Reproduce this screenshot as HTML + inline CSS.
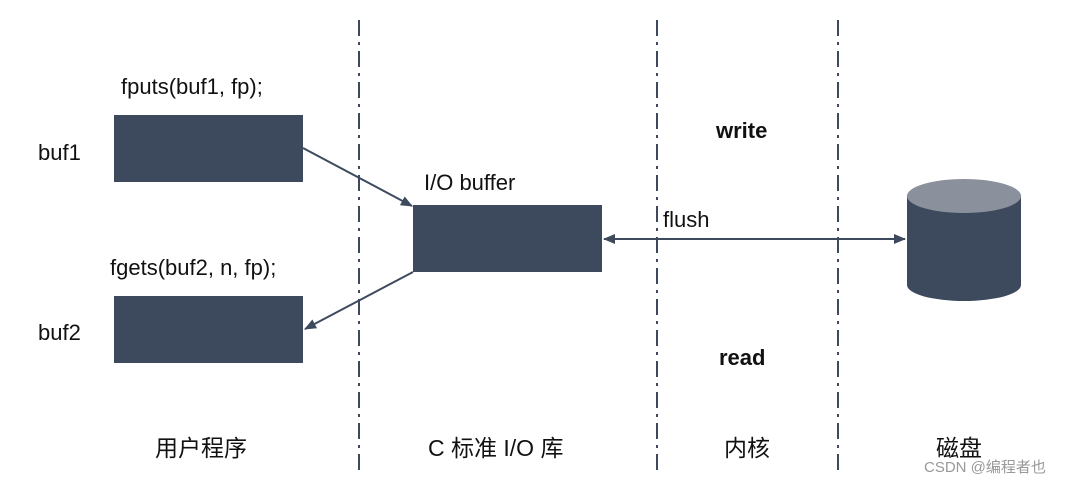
<!DOCTYPE html>
<html><head><meta charset="utf-8"><style>
body{margin:0;background:#fff;}
text{font-family:"Liberation Sans","Noto Sans CJK SC",sans-serif;fill:#111;}
</style></head><body>
<svg width="1076" height="484" viewBox="0 0 1076 484" xmlns="http://www.w3.org/2000/svg">
<defs><marker id="a" markerWidth="12" markerHeight="10" refX="11" refY="5" orient="auto" markerUnits="userSpaceOnUse"><path d="M0,0 L12,5 L0,10 Z" fill="#3d4a5e"/></marker></defs>
<g stroke="#3d4a5e" stroke-width="2" stroke-dasharray="16,6,3,6">
<line x1="359" y1="20" x2="359" y2="472"/>
<line x1="657" y1="20" x2="657" y2="472"/>
<line x1="838" y1="20" x2="838" y2="472"/>
</g>
<g fill="#3d4a5e">
<rect x="114" y="115" width="189" height="67"/>
<rect x="114" y="296" width="189" height="67"/>
<rect x="413" y="205" width="189" height="67"/>
<path d="M907,195 L907,285 A57,16 0 0 0 1021,285 L1021,195 Z"/>
</g>
<ellipse cx="964" cy="196" rx="57" ry="17" fill="#8a909c"/>
<g stroke="#3d4a5e" stroke-width="2" fill="none">
<line x1="303" y1="148" x2="412" y2="206" marker-end="url(#a)"/>
<line x1="413" y1="272" x2="305" y2="329" marker-end="url(#a)"/>
<line x1="620" y1="239" x2="905" y2="239" marker-end="url(#a)"/>
<line x1="620" y1="239" x2="604" y2="239" marker-end="url(#a)"/>
</g>
<g font-size="22">
<text x="121" y="94">fputs(buf1, fp);</text>
<text x="38" y="160">buf1</text>
<text x="110" y="275">fgets(buf2, n, fp);</text>
<text x="38" y="340">buf2</text>
<text x="424" y="190">I/O buffer</text>
<text x="663" y="227">flush</text>
<text x="716" y="138" font-weight="bold">write</text>
<text x="719" y="365" font-weight="bold">read</text>
</g>
<g font-size="23">
<text x="155" y="456">用户程序</text>
<text x="428" y="456">C 标准 I/O 库</text>
<text x="724" y="456">内核</text>
<text x="936" y="456">磁盘</text>
</g>
<text x="924" y="472" font-size="15" style="fill:#999">CSDN @编程者也</text>
</svg>
</body></html>
